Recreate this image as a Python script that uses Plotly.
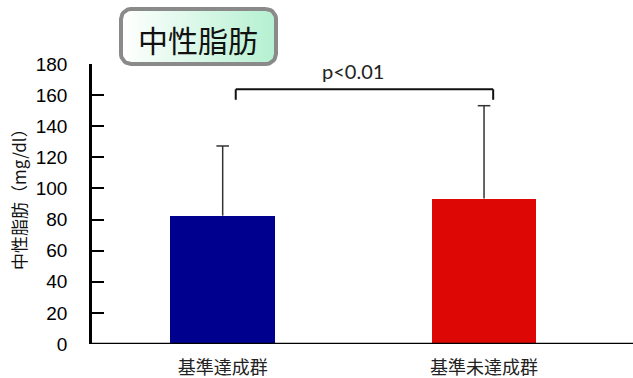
import numpy as np
import plotly.graph_objects as go

# Data
groups = ["基準達成群", "基準未達成群"]
means = [82.5, 93.5]
sds = [44.8, 59.7]
bar_colors = ["#00008f", "#dd0806"]
y_ticks = [0, 20, 40, 60, 80, 100, 120, 140, 160, 180]
p_label = "p<0.01"
title_text = "中性脂肪"
y_title = "中性脂肪（mg/dl）"

W, H = 633, 378
xpos = list(range(len(groups)))

fig = go.Figure()

fig.add_trace(go.Bar(
    x=xpos, y=means, width=0.4,
    marker=dict(color=bar_colors, line=dict(width=0)),
    showlegend=False, hoverinfo="skip",
))

# Upper-only SD whiskers: stem from the bar top, cap at mean + SD
wx, wy = [], []
for x, m, s in zip(xpos, means, sds):
    wx += [x, x, None]
    wy += [m, m + s, None]
fig.add_trace(go.Scatter(
    x=wx, y=wy, mode="lines", line=dict(color="#333333", width=1.5),
    showlegend=False, hoverinfo="skip",
))
fig.add_trace(go.Scatter(
    x=xpos, y=[m + s for m, s in zip(means, sds)], mode="markers",
    marker=dict(symbol="line-ew-open", size=9, color="#333333",
                line=dict(color="#333333", width=1.5)),
    showlegend=False, hoverinfo="skip",
))

# Rounded title box on a pixel-space overlay axis
def rounded_rect(x0, y0, x1, y1, r, n=10):
    xs, ys = [], []
    corners = [(x1 - r, y0 + r, -90, 0), (x1 - r, y1 - r, 0, 90),
               (x0 + r, y1 - r, 90, 180), (x0 + r, y0 + r, 180, 270)]
    for cx, cy, a0, a1 in corners:
        for a in np.linspace(np.radians(a0), np.radians(a1), n):
            xs.append(cx + r * np.cos(a))
            ys.append(cy + r * np.sin(a))
    xs.append(xs[0]); ys.append(ys[0])
    return xs, ys

bx, by = rounded_rect(121, 9, 276, 64, 10)
fig.add_trace(go.Scatter(
    x=bx, y=by, xaxis="x2", yaxis="y2", mode="lines", fill="toself",
    fillgradient=dict(type="horizontal",
                      colorscale=[[0, "#ffffff"], [1, "#b4f0d0"]]),
    line=dict(color="#8a8a8a", width=4),
    showlegend=False, hoverinfo="skip",
))

# Significance bracket
br_x0, br_x1, br_top, br_leg = 0.05, 1.035, 163.7, 157.0
for xs_, ys_ in [([br_x0, br_x0], [br_leg, br_top]),
                 ([br_x0, br_x1], [br_top, br_top]),
                 ([br_x1, br_x1], [br_top, br_leg])]:
    fig.add_shape(type="line", xref="x", yref="y", x0=xs_[0], x1=xs_[1],
                  y0=ys_[0], y1=ys_[1], line=dict(color="#111111", width=2))

fig.add_annotation(x=0.5, y=br_top + 2.5, xref="x", yref="y",
                   text=p_label, showarrow=False, yanchor="bottom",
                   font=dict(family="Lato", size=20, color="#222222"))

fig.add_annotation(x=198, y=39, xref="x2", yref="y2", text=title_text, showarrow=False,
                   font=dict(family="Noto Sans CJK JP", size=30, color="#111111"))

fig.add_annotation(x=18, y=195, xref="x2", yref="y2", text=y_title, showarrow=False,
                   textangle=-90,
                   font=dict(family="Noto Sans CJK JP", size=17, color="#111111"))

# Extend the baseline to the right edge
fig.add_shape(type="line", xref="paper", yref="y", x0=92 / W, x1=1, y0=0, y1=0,
              line=dict(color="black", width=2.5))

fig.update_layout(
    width=W, height=H,
    margin=dict(l=0, r=0, t=0, b=0, autoexpand=False),
    paper_bgcolor="white", plot_bgcolor="rgba(0,0,0,0)",
    bargap=0,
    xaxis=dict(domain=[92 / W, 1], range=[-0.5, 1.57], automargin=False,
               tickvals=xpos, ticktext=groups, ticks="",
               showgrid=False, zeroline=False, showline=False,
               ticklabelstandoff=11,
               tickfont=dict(family="Noto Sans CJK JP", size=18, color="#222222")),
    yaxis=dict(domain=[(H - 344) / H, (H - 64) / H], range=[0, 180], automargin=False,
               tickvals=y_ticks, ticks="inside", ticklen=12, tickwidth=2,
               tickcolor="black", showline=True, linecolor="black", linewidth=2.5,
               showgrid=False, zeroline=False, ticklabelstandoff=18,
               tickfont=dict(family="Liberation Sans, Arial", size=19, color="black")),
    xaxis2=dict(domain=[0, 1], range=[0, W], visible=False, anchor="y2", automargin=False),
    yaxis2=dict(domain=[0, 1], range=[H, 0], visible=False, anchor="x2", automargin=False),
)

fig.write_html("out.html")
